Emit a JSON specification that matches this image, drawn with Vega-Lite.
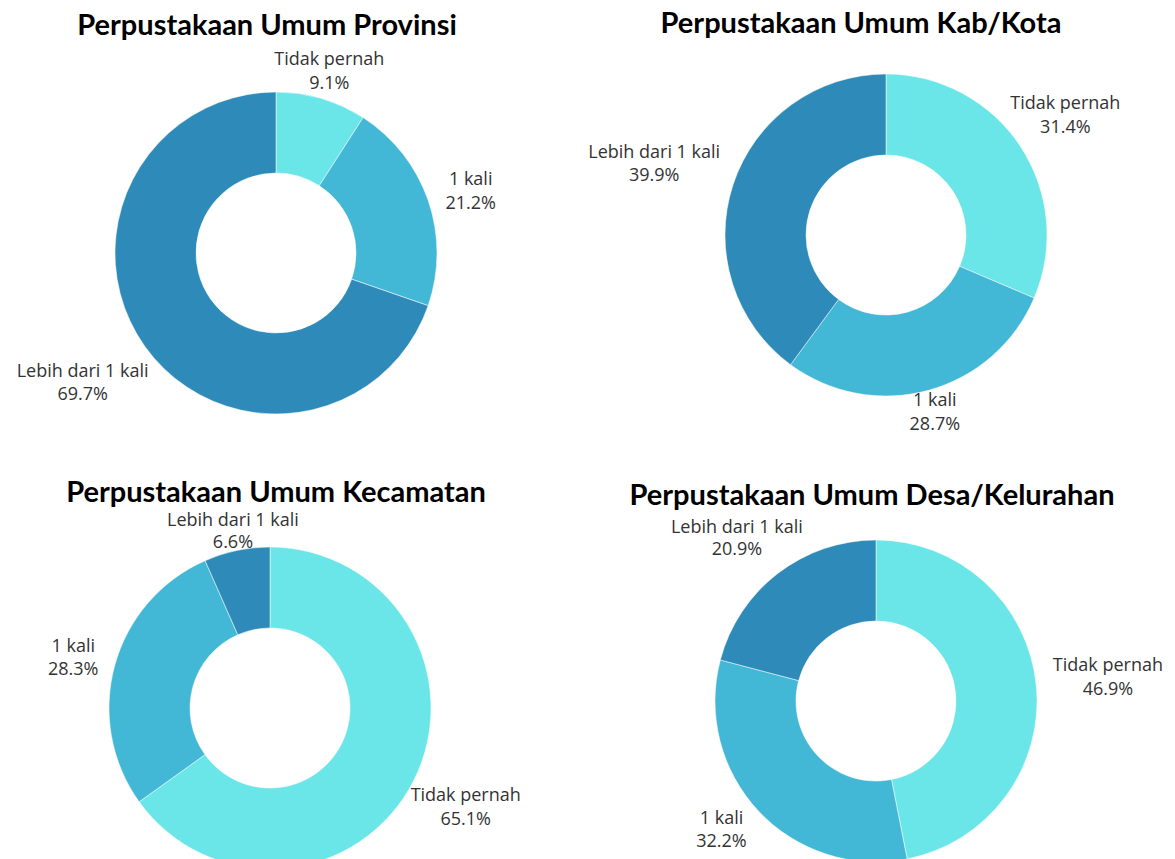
{
  "$schema": "https://vega.github.io/schema/vega-lite/v6.json",
  "background": "#ffffff",
  "padding": {"left": 0, "top": 9, "right": 0, "bottom": 0},
  "bounds": "flush",
  "columns": 2,
  "spacing": {"row": 106, "column": 58},
  "data": {"values": [
    {"panel": "Provinsi", "cat": "Tidak pernah", "pct": 0.091, "idx": 1},
    {"panel": "Provinsi", "cat": "1 kali", "pct": 0.212, "idx": 2},
    {"panel": "Provinsi", "cat": "Lebih dari 1 kali", "pct": 0.697, "idx": 3},
    {"panel": "Kab/Kota", "cat": "Tidak pernah", "pct": 0.314, "idx": 1},
    {"panel": "Kab/Kota", "cat": "1 kali", "pct": 0.287, "idx": 2},
    {"panel": "Kab/Kota", "cat": "Lebih dari 1 kali", "pct": 0.399, "idx": 3},
    {"panel": "Kecamatan", "cat": "Tidak pernah", "pct": 0.651, "idx": 1},
    {"panel": "Kecamatan", "cat": "1 kali", "pct": 0.283, "idx": 2},
    {"panel": "Kecamatan", "cat": "Lebih dari 1 kali", "pct": 0.066, "idx": 3},
    {"panel": "Desa/Kelurahan", "cat": "Tidak pernah", "pct": 0.469, "idx": 1},
    {"panel": "Desa/Kelurahan", "cat": "1 kali", "pct": 0.322, "idx": 2},
    {"panel": "Desa/Kelurahan", "cat": "Lebih dari 1 kali", "pct": 0.209, "idx": 3}
  ]},
  "concat": [
    {
      "width": 552, "height": 404,
      "title": {"text": "Perpustakaan Umum Provinsi", "dx": -9, "offset": -32},
      "transform": [{"filter": "datum.panel == 'Provinsi'"}],
      "encoding": {
        "theta": {"field": "pct", "type": "quantitative", "stack": true},
        "order": {"field": "idx", "type": "quantitative"}
      },
      "layer": [
        {"mark": {"type": "arc", "radius": 161, "innerRadius": 80, "stroke": "#ffffff", "strokeWidth": 0.5},
         "encoding": {"color": {"field": "cat", "type": "nominal", "scale": {"domain": ["Tidak pernah", "1 kali", "Lebih dari 1 kali"], "range": ["#6ae5e8", "#43b8d6", "#2e8bb9"]}, "legend": null}}},
        {"mark": {"type": "text", "radius": 189, "dy": -12}, "encoding": {"text": {"condition": {"test": "datum.cat == 'Tidak pernah'", "field": "cat", "type": "nominal"}, "value": ""}}},
        {"mark": {"type": "text", "radius": 189, "dy": 12}, "encoding": {"text": {"condition": {"test": "datum.cat == 'Tidak pernah'", "field": "pct", "type": "quantitative", "format": ".1%"}, "value": ""}}},
        {"mark": {"type": "text", "radius": 206, "dy": -6}, "encoding": {"text": {"condition": {"test": "datum.cat == '1 kali'", "field": "cat", "type": "nominal"}, "value": ""}}},
        {"mark": {"type": "text", "radius": 206, "dy": 18}, "encoding": {"text": {"condition": {"test": "datum.cat == '1 kali'", "field": "pct", "type": "quantitative", "format": ".1%"}, "value": ""}}},
        {"mark": {"type": "text", "radius": 230, "dx": -6, "dy": -14}, "encoding": {"text": {"condition": {"test": "datum.cat == 'Lebih dari 1 kali'", "field": "cat", "type": "nominal"}, "value": ""}}},
        {"mark": {"type": "text", "radius": 230, "dx": -6, "dy": 9}, "encoding": {"text": {"condition": {"test": "datum.cat == 'Lebih dari 1 kali'", "field": "pct", "type": "quantitative", "format": ".1%"}, "value": ""}}}
      ]
    },
    {
      "width": 552, "height": 368,
      "title": {"text": "Perpustakaan Umum Kab/Kota", "dx": -25, "offset": 12},
      "transform": [{"filter": "datum.panel == 'Kab/Kota'"}],
      "encoding": {
        "theta": {"field": "pct", "type": "quantitative", "stack": true},
        "order": {"field": "idx", "type": "quantitative"}
      },
      "layer": [
        {"mark": {"type": "arc", "radius": 161, "innerRadius": 80, "stroke": "#ffffff", "strokeWidth": 0.5},
         "encoding": {"color": {"field": "cat", "type": "nominal", "scale": {"domain": ["Tidak pernah", "1 kali", "Lebih dari 1 kali"], "range": ["#6ae5e8", "#43b8d6", "#2e8bb9"]}, "legend": null}}},
        {"mark": {"type": "text", "radius": 215, "dy": -12}, "encoding": {"text": {"condition": {"test": "datum.cat == 'Tidak pernah'", "field": "cat", "type": "nominal"}, "value": ""}}},
        {"mark": {"type": "text", "radius": 215, "dy": 12}, "encoding": {"text": {"condition": {"test": "datum.cat == 'Tidak pernah'", "field": "pct", "type": "quantitative", "format": ".1%"}, "value": ""}}},
        {"mark": {"type": "text", "radius": 185, "dy": -12}, "encoding": {"text": {"condition": {"test": "datum.cat == '1 kali'", "field": "cat", "type": "nominal"}, "value": ""}}},
        {"mark": {"type": "text", "radius": 185, "dy": 12}, "encoding": {"text": {"condition": {"test": "datum.cat == '1 kali'", "field": "pct", "type": "quantitative", "format": ".1%"}, "value": ""}}},
        {"mark": {"type": "text", "radius": 244, "dy": -6}, "encoding": {"text": {"condition": {"test": "datum.cat == 'Lebih dari 1 kali'", "field": "cat", "type": "nominal"}, "value": ""}}},
        {"mark": {"type": "text", "radius": 244, "dy": 17}, "encoding": {"text": {"condition": {"test": "datum.cat == 'Lebih dari 1 kali'", "field": "pct", "type": "quantitative", "format": ".1%"}, "value": ""}}}
      ]
    },
    {
      "width": 540, "height": 294,
      "title": {"text": "Perpustakaan Umum Kecamatan", "dx": 6, "offset": -36},
      "transform": [{"filter": "datum.panel == 'Kecamatan'"}],
      "encoding": {
        "theta": {"field": "pct", "type": "quantitative", "stack": true},
        "order": {"field": "idx", "type": "quantitative"}
      },
      "layer": [
        {"mark": {"type": "arc", "radius": 161, "innerRadius": 80, "stroke": "#ffffff", "strokeWidth": 0.5},
         "encoding": {"color": {"field": "cat", "type": "nominal", "scale": {"domain": ["Tidak pernah", "1 kali", "Lebih dari 1 kali"], "range": ["#6ae5e8", "#43b8d6", "#2e8bb9"]}, "legend": null}}},
        {"mark": {"type": "text", "radius": 220, "dy": -12}, "encoding": {"text": {"condition": {"test": "datum.cat == 'Tidak pernah'", "field": "cat", "type": "nominal"}, "value": ""}}},
        {"mark": {"type": "text", "radius": 220, "dy": 12}, "encoding": {"text": {"condition": {"test": "datum.cat == 'Tidak pernah'", "field": "pct", "type": "quantitative", "format": ".1%"}, "value": ""}}},
        {"mark": {"type": "text", "radius": 204, "dy": -7}, "encoding": {"text": {"condition": {"test": "datum.cat == '1 kali'", "field": "cat", "type": "nominal"}, "value": ""}}},
        {"mark": {"type": "text", "radius": 204, "dy": 16}, "encoding": {"text": {"condition": {"test": "datum.cat == '1 kali'", "field": "pct", "type": "quantitative", "format": ".1%"}, "value": ""}}},
        {"mark": {"type": "text", "radius": 180, "dy": -11}, "encoding": {"text": {"condition": {"test": "datum.cat == 'Lebih dari 1 kali'", "field": "cat", "type": "nominal"}, "value": ""}}},
        {"mark": {"type": "text", "radius": 180, "dy": 11}, "encoding": {"text": {"condition": {"test": "datum.cat == 'Lebih dari 1 kali'", "field": "pct", "type": "quantitative", "format": ".1%"}, "value": ""}}}
      ]
    },
    {
      "width": 532, "height": 280,
      "title": {"text": "Perpustakaan Umum Desa/Kelurahan", "dx": -4, "offset": -16},
      "transform": [{"filter": "datum.panel == 'Desa/Kelurahan'"}],
      "encoding": {
        "theta": {"field": "pct", "type": "quantitative", "stack": true},
        "order": {"field": "idx", "type": "quantitative"}
      },
      "layer": [
        {"mark": {"type": "arc", "radius": 161, "innerRadius": 80, "stroke": "#ffffff", "strokeWidth": 0.5},
         "encoding": {"color": {"field": "cat", "type": "nominal", "scale": {"domain": ["Tidak pernah", "1 kali", "Lebih dari 1 kali"], "range": ["#6ae5e8", "#43b8d6", "#2e8bb9"]}, "legend": null}}},
        {"mark": {"type": "text", "radius": 233, "dy": -12}, "encoding": {"text": {"condition": {"test": "datum.cat == 'Tidak pernah'", "field": "cat", "type": "nominal"}, "value": ""}}},
        {"mark": {"type": "text", "radius": 233, "dy": 12}, "encoding": {"text": {"condition": {"test": "datum.cat == 'Tidak pernah'", "field": "pct", "type": "quantitative", "format": ".1%"}, "value": ""}}},
        {"mark": {"type": "text", "radius": 201, "dx": -8, "dy": -20}, "encoding": {"text": {"condition": {"test": "datum.cat == '1 kali'", "field": "cat", "type": "nominal"}, "value": ""}}},
        {"mark": {"type": "text", "radius": 201, "dx": -8, "dy": 3}, "encoding": {"text": {"condition": {"test": "datum.cat == '1 kali'", "field": "pct", "type": "quantitative", "format": ".1%"}, "value": ""}}},
        {"mark": {"type": "text", "radius": 205, "dx": -14, "dy": -11}, "encoding": {"text": {"condition": {"test": "datum.cat == 'Lebih dari 1 kali'", "field": "cat", "type": "nominal"}, "value": ""}}},
        {"mark": {"type": "text", "radius": 205, "dx": -14, "dy": 11}, "encoding": {"text": {"condition": {"test": "datum.cat == 'Lebih dari 1 kali'", "field": "pct", "type": "quantitative", "format": ".1%"}, "value": ""}}}
      ]
    }
  ],
  "config": {
    "view": {"stroke": null},
    "title": {"font": "Lato", "fontSize": 29, "fontWeight": "bold", "color": "#000000", "anchor": "middle", "baseline": "alphabetic", "frame": "group"},
    "text": {"font": "Open Sans", "fontSize": 18, "fill": "#333333"}
  }
}
